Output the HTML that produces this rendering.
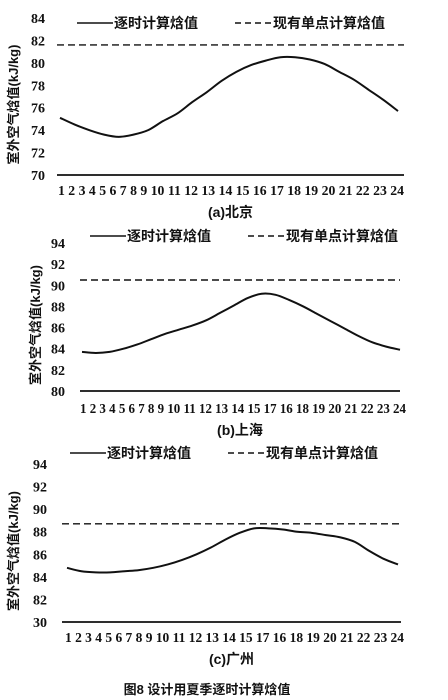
<!DOCTYPE html>
<html><head><meta charset="utf-8">
<style>
html,body{margin:0;padding:0;background:#fff;width:448px;height:700px;overflow:hidden}
svg{display:block}
text{font-family:"Liberation Serif","Noto Serif CJK SC",serif;font-weight:bold;fill:#111}
.cjk{font-family:"Liberation Sans","Noto Sans CJK SC",sans-serif;font-weight:bold}
</style></head>
<body>
<svg id="chart" width="448" height="700" viewBox="0 0 448 700" xmlns="http://www.w3.org/2000/svg"></svg>
<script>
const hoursA = ["1","2","3","4","5","6","7","8","9","10","11","12","13","14","15","16","17","18","19","20","21","22","23","24"];
const hoursB = ["1","2","3","4","5","6","7","8","9","10","11","12","13","14","15","17","16","18","19","20","21","22","23","24"];
const beijingValues = [75.1,74.5,74.0,73.6,73.4,73.6,74.0,74.8,75.5,76.5,77.4,78.4,79.2,79.8,80.2,80.5,80.5,80.3,79.9,79.2,78.5,77.6,76.7,75.7];
const shanghaiValues = [83.7,83.6,83.7,84.0,84.4,84.9,85.4,85.8,86.2,86.7,87.4,88.1,88.8,89.2,89.1,88.6,88.0,87.3,86.6,85.9,85.2,84.6,84.2,83.9];
const guangzhouValues = [84.8,84.5,84.4,84.4,84.5,84.6,84.8,85.1,85.5,86.0,86.6,87.3,87.9,88.3,88.3,88.2,88.0,87.9,87.7,87.5,87.1,86.3,85.6,85.1];
const designValues = [81.6,90.5,88.7];
const ticksA = [70,72,74,76,78,80,82,84];
const ticksB = [80,82,84,86,88,90,92,94];
const ticksC = ["80","82","84","86","88","90","92","94"];
const tickLabelsC = ["30","82","84","86","88","90","92","94"];
const captions = ["(a)北京","(b)上海","(c)广州"];

const NS="http://www.w3.org/2000/svg";
const svg=document.getElementById('chart');
function mk(tag,attrs,parent){const e=document.createElementNS(NS,tag);for(const k in attrs)e.setAttribute(k,attrs[k]);(parent||svg).appendChild(e);return e;}

const panels=[
 {name:'beijing',vals:beijingValues,design:designValues[0],ticks:ticksA,tlabels:ticksA.map(String),cats:hoursA,
  yTop:18,yBot:175,x0:57,x1:404,lx0:60,lx1:398,tickX:38,titleX:18,labY:195,capY:217,legY:27,legX:77,cap:captions[0]},
 {name:'shanghai',vals:shanghaiValues,design:designValues[1],ticks:ticksB,tlabels:ticksB.map(String),cats:hoursB,
  yTop:243,yBot:391,x0:80,x1:400,lx0:82,lx1:400,tickX:58,titleX:40,labY:413,capY:435,legY:240,legX:90,cap:captions[1]},
 {name:'guangzhou',vals:guangzhouValues,design:designValues[2],ticks:ticksC.map(Number),tlabels:tickLabelsC,cats:hoursB,
  yTop:464,yBot:622,x0:62,x1:401,lx0:67,lx1:398,tickX:40,titleX:18,labY:642,capY:664,legY:457,legX:70,cap:captions[2]}
];

panels.forEach(p=>{
  const g=mk('g',{});
  
  
  const lo=p.ticks[0],hi=p.ticks[p.ticks.length-1];
  const y=v=>p.yBot-(v-lo)/(hi-lo)*(p.yBot-p.yTop);
  const x=i=>p.lx0+i*(p.lx1-p.lx0)/(p.cats.length-1);
  p.ticks.forEach((t,i)=>{
    const tx=mk('text',{x:p.tickX,y:y(t)+5,'text-anchor':'middle','font-size':14},g);
    tx.textContent=p.tlabels[i];
    
    
  });
  const cy=(p.yTop+p.yBot)/2+8;
  const yt=mk('text',{x:p.titleX,y:cy,'text-anchor':'middle','font-size':13,transform:`rotate(-90 ${p.titleX} ${cy})`,'class':'cjk'},g);
  yt.textContent='室外空气焓值(kJ/kg)';
  
  
  const ax=mk('line',{x1:p.x0,x2:p.x1,y1:p.yBot,y2:p.yBot,stroke:'#111','stroke-width':1.8},g);
  
  
  const xl=mk('text',{x:p.lx0-2,y:p.labY,'font-size':14,textLength:(p.lx1-p.lx0+8),lengthAdjust:'spacingAndGlyphs'},g);
  xl.textContent=p.cats.join(' ');
  
  
  const dl=mk('line',{x1:p.x0,x2:p.x1,y1:y(p.design),y2:y(p.design),stroke:'#111','stroke-width':1.4,'stroke-dasharray':'7 4'},g);
  
  
  const pts=p.vals.map((v,i)=>[x(i),y(v)]);
  let d=`M${pts[0][0]},${pts[0][1]}`;
  for(let i=0;i<pts.length-1;i++){
    const p0=pts[Math.max(0,i-1)],p1=pts[i],p2=pts[i+1],p3=pts[Math.min(pts.length-1,i+2)];
    const c1=[p1[0]+(p2[0]-p0[0])/6,p1[1]+(p2[1]-p0[1])/6];
    const c2=[p2[0]-(p3[0]-p1[0])/6,p2[1]-(p3[1]-p1[1])/6];
    d+=` C${c1[0]},${c1[1]} ${c2[0]},${c2[1]} ${p2[0]},${p2[1]}`;
  }
  const cv=mk('path',{d:d,fill:'none',stroke:'#111','stroke-width':2},g);
  
  
  const l1=mk('line',{x1:p.legX,x2:p.legX+36,y1:p.legY-4,y2:p.legY-4,stroke:'#111','stroke-width':1.5},g);
  
  
  const t1=mk('text',{x:p.legX+37,y:p.legY+1,'font-size':14,'class':'cjk'},g);
  t1.textContent='逐时计算焓值';
  
  
  const l2=mk('line',{x1:p.legX+158,x2:p.legX+195,y1:p.legY-4,y2:p.legY-4,stroke:'#111','stroke-width':1.5,'stroke-dasharray':'6 4'},g);
  
  
  const t2=mk('text',{x:p.legX+196,y:p.legY+1,'font-size':14,'class':'cjk'},g);
  t2.textContent='现有单点计算焓值';
  
  
  const cp=mk('text',{x:(p.x0+p.x1)/2,y:p.capY,'text-anchor':'middle','font-size':14,'class':'cjk'},g);
  cp.textContent=p.cap;
  
  
});
const ft=mk('text',{x:207,y:694,'text-anchor':'middle','font-size':13,'class':'cjk'});
ft.textContent='图8 设计用夏季逐时计算焓值';


</script>
</body></html>
